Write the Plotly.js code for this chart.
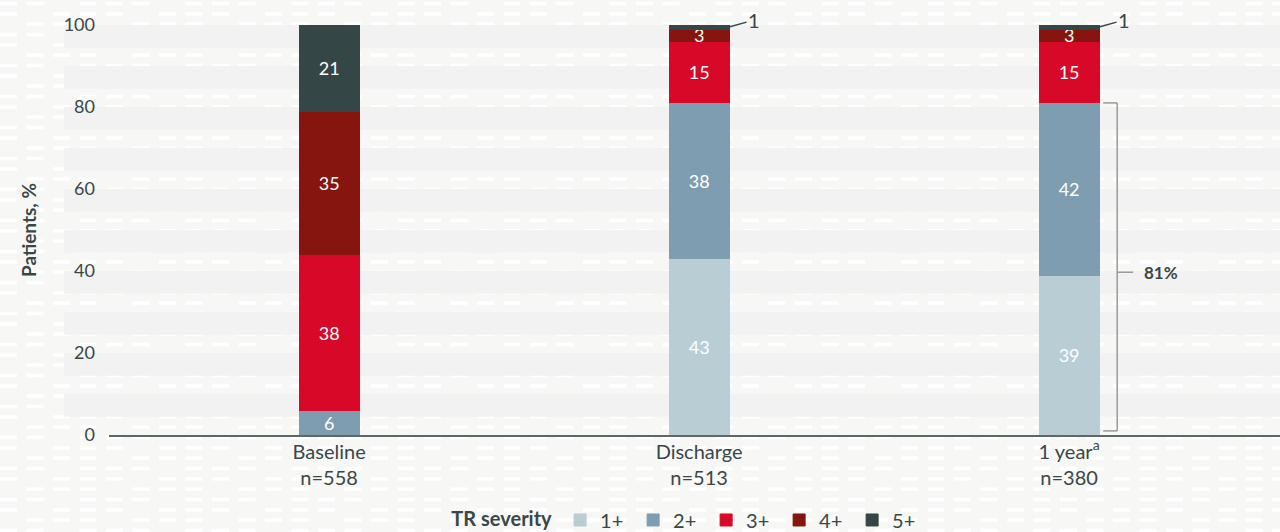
<!DOCTYPE html>
<html>
<head>
<meta charset="utf-8">
<script src="https://cdn.plot.ly/plotly-3.0.1.min.js"></script>
<style>
  html, body { margin: 0; padding: 0; }
  body {
    width: 1280px; height: 532px; overflow: hidden;
    background-color: #f7f7f5;
    /* light dashed texture behind the chart */
    background-image: url("data:image/svg+xml,%3Csvg xmlns='http://www.w3.org/2000/svg' width='106' height='31'%3E%3Cg fill='%23ffffff'%3E%3Crect x='0' y='1.8' width='17' height='3.5'/%3E%3Crect x='26.5' y='1.8' width='17' height='3.5'/%3E%3Crect x='79.5' y='1.8' width='17' height='3.5'/%3E%3Crect x='0' y='12.1' width='17' height='3.5'/%3E%3Crect x='53' y='12.1' width='17' height='3.5'/%3E%3Crect x='79.5' y='12.1' width='17' height='3.5'/%3E%3Crect x='26.5' y='22.4' width='17' height='3.5'/%3E%3Crect x='53' y='22.4' width='17' height='3.5'/%3E%3Crect x='79.5' y='22.4' width='17' height='3.5'/%3E%3C/g%3E%3C/svg%3E");
  }
  #chart { width: 1280px; height: 532px; }
</style>
</head>
<body>
<div id="chart"></div>
<script>
// Tricuspid regurgitation severity by visit (% of patients)
const categories = ['Baseline', 'Discharge', '1 year'];
const footnotes = ['', '', 'a'];
const sampleSizes = [558, 513, 380];
const severityLabels = ['1+', '2+', '3+', '4+', '5+'];
const grade1 = [0, 43, 39];
const grade2 = [6, 38, 42];
const grade3 = [38, 15, 15];
const grade4 = [35, 3, 3];
const grade5 = [21, 1, 1];
const severityColors = ['#b9cdd4', '#7f9db0', '#d80928', '#861510', '#354646'];

const series = [grade1, grade2, grade3, grade4, grade5];
const textColor = '#3a4749';
const fontFamily = 'Lato, "Open Sans", sans-serif';
const barWidth = 0.162;

const traces = series.map((vals, k) => ({
  type: 'bar',
  name: severityLabels[k],
  x: categories,
  y: vals,
  width: barWidth,
  marker: { color: severityColors[k], line: { width: 1, color: severityColors[k] } },
  text: vals.map(v => String(v)),
  texttemplate: '%{text}',
  // segments too thin for an inside label get a callout instead
  textposition: vals.map(v => (v >= 2 ? 'inside' : 'none')),
  insidetextanchor: 'middle',
  textangle: 0,
  textfont: { color: '#ffffff', size: 18, family: fontFamily },
  hoverinfo: 'skip'
}));

const annotations = [];
categories.forEach((c, i) => {
  let cum = 0;
  series.forEach((vals, k) => {
    const v = vals[i];
    if (v > 0 && v < 2) {
      annotations.push({
        x: i + barWidth / 2, y: cum + v / 2, xref: 'x', yref: 'y',
        text: String(v), showarrow: true, arrowhead: 0, arrowwidth: 1.5,
        arrowcolor: textColor, ax: 25, ay: -7,
        font: { size: 20, color: textColor, family: fontFamily }
      });
    }
    cum += v;
  });
});

// bracket marking 1+ and 2+ combined at the last visit
const last = categories.length - 1;
const combined = grade1[last] + grade2[last];
const bracketColor = '#9a9a9a';
const bx0 = last + 0.092, bx1 = last + 0.130, bxTip = last + 0.173;
const bTop = combined, bBottom = 1;
const bMid = (combined + 0) / 2 - 0.8;

const shapes = [];
// horizontal background bands
for (let j = 1; j <= 10; j++) {
  shapes.push({
    type: 'rect', layer: 'below', xref: 'paper', yref: 'y',
    x0: -0.0384, x1: 1, y0: 10 * j - 5.55, y1: 10 * j,
    fillcolor: '#f2f2f2', line: { width: 0 }
  });
}
const bLine = { color: bracketColor, width: 1.5 };
shapes.push({ type: 'line', xref: 'x', yref: 'y', x0: bx0, x1: bx1, y0: bTop, y1: bTop, line: bLine });
shapes.push({ type: 'line', xref: 'x', yref: 'y', x0: bx1, x1: bx1, y0: bTop, y1: bBottom, line: bLine });
shapes.push({ type: 'line', xref: 'x', yref: 'y', x0: bx0, x1: bx1, y0: bBottom, y1: bBottom, line: bLine });
shapes.push({ type: 'line', xref: 'x', yref: 'y', x0: bx1, x1: bxTip, y0: bMid, y1: bMid, line: bLine });
annotations.push({
  x: last + 0.197, y: bMid, xref: 'x', yref: 'y', xanchor: 'left',
  text: '<b>' + combined + '%</b>', showarrow: false,
  font: { size: 17, color: textColor, family: fontFamily }
});

const tickText = categories.map((c, i) =>
  c + (footnotes[i] ? '<sup>' + footnotes[i] + '</sup>' : '') + '<br>n=' + sampleSizes[i]);

const layout = {
  width: 1280, height: 532,
  margin: { l: 109, r: 0, t: 25, b: 97, autoexpand: false },
  paper_bgcolor: 'rgba(0,0,0,0)',
  plot_bgcolor: 'rgba(0,0,0,0)',
  font: { family: fontFamily, color: textColor },
  barmode: 'stack',
  uniformtext: { mode: 'show', minsize: 18 },
  showlegend: true,
  xaxis: {
    type: 'category',
    range: [-0.595, 2.570],
    tickvals: categories, ticktext: tickText,
    tickfont: { size: 20, color: textColor },
    ticks: '', showgrid: false, zeroline: false,
    showline: true, linecolor: '#5c6768', linewidth: 1.5,
    ticklabelstandoff: -2, fixedrange: true
  },
  yaxis: {
    range: [0, 100],
    tickvals: [0, 20, 40, 60, 80, 100],
    tickfont: { size: 18, color: textColor },
    ticks: '', ticklabelstandoff: 13,
    showgrid: false, zeroline: false, showline: false,
    title: { text: '<b>Patients, %</b>', font: { size: 19, color: textColor }, standoff: 22 },
    fixedrange: true
  },
  legend: {
    orientation: 'h',
    xref: 'container', yref: 'container',
    x: 0.351, xanchor: 'left', y: 0.0226, yanchor: 'middle',
    traceorder: 'normal',
    bgcolor: 'rgba(0,0,0,0)',
    font: { size: 20, color: textColor },
    title: { text: '<b>TR severity</b>', side: 'left', font: { size: 20, color: textColor } },
    entrywidth: 28, entrywidthmode: 'pixels'
  },
  shapes: shapes,
  annotations: annotations
};

Plotly.newPlot('chart', traces, layout, { displayModeBar: false, staticPlot: true });
</script>
</body>
</html>
